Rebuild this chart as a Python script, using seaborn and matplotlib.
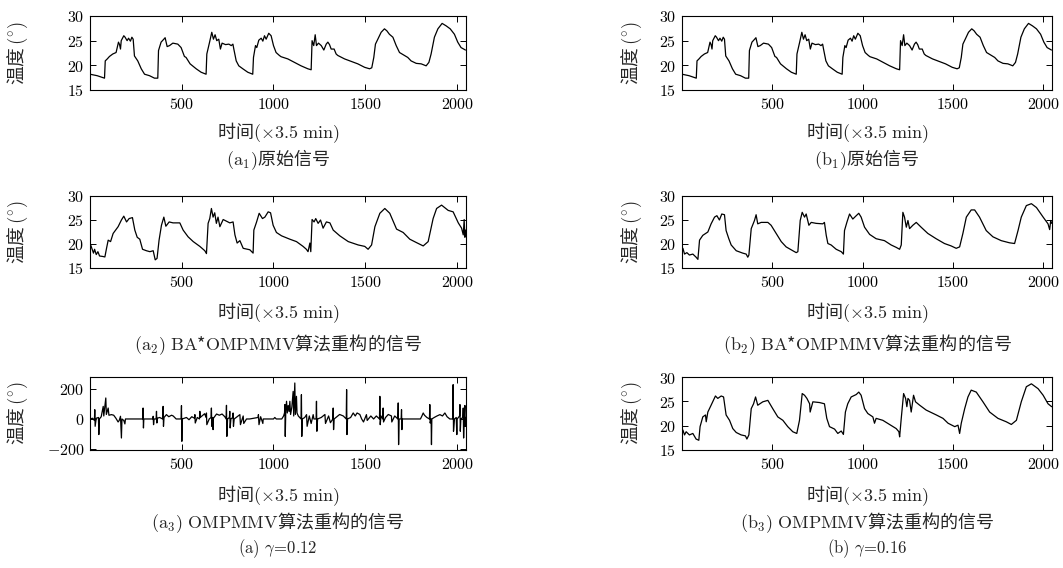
import matplotlib
matplotlib.use("Agg")
import matplotlib.pyplot as plt
import seaborn as sns

# ---------------- data ----------------
orig_x = [1, 40, 80, 84, 95, 107, 125, 143, 156, 162, 167, 171, 185, 192, 203, 211, 221, 229, 236, 243,
          261, 280, 298, 325, 352, 370, 374, 388, 403, 410, 421, 434, 452, 479, 497, 515, 524, 546, 579, 606,
          633, 637, 652, 664, 673, 682, 691, 702, 711, 720, 739, 757, 770, 779, 784, 797, 811, 833, 860, 887,
          891, 902, 909, 920, 933, 942, 951, 960, 974, 987, 1000, 1014, 1032, 1041, 1078, 1114, 1150, 1187, 1205, 1210,
          1219, 1227, 1234, 1245, 1260, 1274, 1287, 1296, 1305, 1314, 1330, 1341, 1350, 1387, 1423, 1459, 1496, 1523, 1535, 1546,
          1555, 1568, 1586, 1604, 1617, 1631, 1650, 1668, 1686, 1713, 1731, 1749, 1777, 1804, 1831, 1846, 1858, 1876, 1895, 1918,
          1940, 1962, 1985, 2003, 2021, 2045]
orig_y = [18.2, 17.9, 17.4, 20.9, 21.3, 21.8, 22.3, 22.6, 24.7, 24.2, 23.3, 25.0, 26.0, 25.7, 25.0, 25.5, 24.9, 25.7, 25.3, 21.9,
          20.9, 19.3, 18.2, 17.9, 17.4, 17.4, 23.0, 24.7, 25.3, 25.6, 23.8, 24.0, 24.5, 24.3, 23.6, 21.8, 21.6, 20.3, 19.3, 18.6,
          18.2, 22.3, 24.7, 26.7, 25.3, 26.2, 25.0, 25.3, 23.3, 24.5, 24.2, 24.3, 24.0, 24.3, 23.3, 20.9, 19.9, 19.3, 18.6, 18.2,
          21.6, 24.0, 23.6, 25.1, 25.5, 24.9, 26.0, 25.3, 26.5, 26.0, 24.0, 22.6, 22.0, 21.75, 21.3, 20.6, 19.9, 19.3, 19.1, 25.0,
          24.0, 26.2, 24.0, 24.5, 24.0, 23.1, 24.3, 24.7, 24.2, 23.3, 23.3, 22.3, 22.0, 21.3, 20.8, 20.3, 19.6, 19.3, 19.5, 21.6,
          24.3, 25.3, 26.7, 27.4, 27.0, 26.3, 25.7, 24.0, 22.6, 22.0, 21.6, 20.9, 20.4, 20.3, 19.9, 20.6, 22.3, 25.7, 27.4, 28.5,
          28.0, 27.4, 26.3, 24.7, 23.6, 23.1]

a2_x = [1, 20, 26, 35, 44, 53, 71, 82, 91, 100, 113, 127, 154, 172, 185, 200, 214, 232, 245, 258,
        272, 287, 308, 327, 345, 356, 366, 377, 390, 403, 414, 432, 453, 490, 508, 535, 563, 599, 626, 635,
        644, 653, 662, 671, 680, 689, 698, 708, 726, 762, 780, 790, 802, 817, 835, 871, 889, 893, 908, 922,
        940, 953, 971, 984, 998, 1016, 1044, 1089, 1125, 1161, 1179, 1188, 1198, 1203, 1210, 1221, 1230, 1243, 1256, 1270,
        1288, 1307, 1325, 1361, 1407, 1461, 1497, 1515, 1534, 1552, 1579, 1606, 1633, 1670, 1706, 1742, 1778, 1815, 1842, 1869,
        1888, 1915, 1951, 1978, 2006, 2024, 2033, 2038, 2042, 2046]
a2_y = [20.2, 18.1, 18.9, 17.8, 18.4, 17.5, 17.4, 17.3, 19.1, 20.8, 20.5, 22.2, 23.6, 25.0, 25.8, 24.6, 25.3, 25.5, 22.9, 21.4,
        21.0, 18.9, 18.6, 18.4, 18.6, 16.7, 17.0, 20.8, 23.9, 25.6, 23.7, 24.6, 24.4, 24.4, 22.9, 21.5, 20.5, 19.5, 18.6, 18.0,
        24.3, 25.3, 27.4, 25.6, 26.5, 24.3, 25.6, 23.6, 25.1, 24.4, 24.6, 21.9, 20.2, 20.7, 19.1, 18.8, 18.1, 22.9, 24.6, 26.4,
        25.3, 25.6, 26.7, 26.5, 23.9, 22.4, 21.7, 21.0, 20.5, 19.5, 18.9, 18.4, 20.2, 18.4, 25.1, 24.6, 25.3, 24.3, 25.0, 23.3,
        24.6, 24.4, 22.9, 21.7, 20.5, 19.8, 19.5, 18.9, 19.8, 23.6, 26.4, 27.4, 26.4, 23.1, 22.4, 21.0, 20.3, 19.6, 20.5, 25.3,
        27.4, 28.1, 27.0, 26.7, 24.4, 23.3, 21.9, 25.1, 21.4, 22.9]

b2_x = [1, 6, 15, 28, 42, 61, 79, 89, 98, 116, 144, 162, 181, 194, 208, 221, 236, 245, 260, 273,
        301, 337, 356, 365, 371, 384, 402, 411, 420, 439, 476, 494, 522, 550, 577, 614, 633, 642, 655, 666,
        679, 688, 703, 716, 743, 780, 789, 799, 808, 826, 854, 882, 894, 900, 913, 928, 946, 965, 979, 992,
        1011, 1039, 1075, 1121, 1158, 1186, 1205, 1214, 1223, 1232, 1242, 1251, 1260, 1278, 1297, 1324, 1361, 1407, 1453, 1490,
        1518, 1537, 1555, 1574, 1601, 1620, 1647, 1684, 1721, 1767, 1813, 1841, 1860, 1878, 1906, 1934, 1962, 1999, 2026, 2035,
        2041, 2046]
b2_y = [18.0, 19.1, 17.9, 18.2, 17.7, 17.9, 17.25, 16.8, 20.8, 21.8, 22.5, 24.2, 25.6, 25.9, 25.0, 26.25, 26.1, 22.8, 21.1, 19.8,
        18.6, 18.1, 17.9, 17.25, 17.7, 23.2, 24.9, 26.1, 24.2, 24.5, 24.5, 23.9, 22.2, 20.5, 19.4, 18.6, 18.2, 18.4, 24.9, 26.6,
        25.6, 26.25, 23.9, 24.5, 24.3, 24.2, 24.5, 21.8, 20.1, 19.8, 18.9, 18.4, 17.9, 22.8, 24.5, 26.25, 25.2, 25.9, 26.4, 25.6,
        23.5, 22.0, 21.1, 20.7, 19.8, 19.3, 18.9, 19.8, 26.6, 25.6, 23.5, 24.9, 23.2, 23.9, 24.5, 23.5, 22.2, 21.1, 20.1, 19.6,
        19.1, 19.4, 22.2, 25.6, 27.1, 27.1, 25.6, 22.8, 21.5, 20.7, 20.25, 20.1, 22.8, 25.6, 28.0, 28.4, 27.6, 25.6, 24.2, 23.0,
        24.9, 24.3]

b3_x = [1, 6, 15, 24, 42, 61, 79, 94, 101, 116, 131, 135, 144, 162, 186, 199, 218, 231, 245, 264,
        282, 301, 328, 352, 360, 371, 384, 397, 408, 420, 448, 476, 503, 531, 559, 586, 614, 636, 651, 666,
        679, 692, 707, 710, 725, 762, 789, 802, 817, 845, 863, 882, 894, 905, 918, 937, 965, 979, 992, 1011,
        1029, 1057, 1066, 1075, 1112, 1149, 1186, 1201, 1205, 1214, 1227, 1238, 1245, 1251, 1260, 1269, 1282, 1293, 1316, 1352,
        1408, 1445, 1473, 1510, 1528, 1537, 1546, 1565, 1583, 1601, 1629, 1666, 1703, 1749, 1795, 1823, 1851, 1878, 1906, 1934,
        1971, 1999, 2026, 2046]
b3_y = [18.0, 19.1, 18.1, 18.75, 18.1, 18.4, 17.25, 17.0, 19.8, 21.8, 22.2, 20.8, 22.8, 24.2, 26.1, 25.6, 26.1, 25.9, 22.2, 21.1,
        19.4, 18.6, 18.1, 17.9, 17.25, 18.1, 23.5, 24.5, 25.9, 24.2, 24.9, 25.2, 23.5, 21.8, 21.1, 19.8, 18.75, 18.4, 21.1, 26.6,
        26.25, 25.6, 24.5, 22.8, 24.9, 24.75, 24.5, 21.5, 19.8, 19.3, 18.4, 18.9, 18.2, 22.8, 24.5, 25.9, 26.4, 26.9, 26.25, 23.5,
        22.5, 21.8, 20.5, 21.5, 21.1, 20.25, 19.4, 18.75, 17.7, 21.5, 26.6, 25.6, 23.9, 25.6, 25.2, 22.8, 26.25, 24.9, 24.2, 23.2,
        22.2, 21.5, 20.5, 19.8, 20.1, 18.4, 20.5, 23.5, 25.9, 27.3, 26.9, 24.9, 22.8, 21.5, 20.8, 20.25, 21.1, 24.9, 28.0, 28.6,
        27.6, 26.25, 24.5, 23.9]

a3_x = [1, 15, 25, 27, 29, 35, 47, 49, 52, 62, 73, 76, 87, 90, 100, 104, 118, 130, 142, 154,
        160, 167, 172, 175, 185, 191, 194, 288, 290, 292, 294, 343, 345, 347, 350, 361, 363, 365, 368, 380,
        397, 399, 401, 404, 417, 430, 445, 454, 470, 497, 499, 501, 503, 526, 540, 555, 570, 572, 574, 585,
        597, 599, 601, 615, 625, 633, 635, 637, 650, 660, 662, 664, 669, 671, 673, 690, 705, 720, 735, 742,
        744, 746, 750, 760, 762, 764, 768, 778, 780, 782, 786, 817, 820, 835, 838, 853, 870, 916, 918, 921,
        930, 942, 944, 1000, 1007, 1015, 1045, 1055, 1060, 1062, 1064, 1067, 1071, 1075, 1080, 1085, 1089, 1093, 1100, 1107,
        1110, 1116, 1119, 1125, 1128, 1135, 1150, 1152, 1154, 1157, 1170, 1180, 1183, 1195, 1205, 1216, 1220, 1232, 1234, 1236,
        1240, 1260, 1280, 1283, 1300, 1310, 1323, 1325, 1327, 1330, 1345, 1360, 1380, 1396, 1398, 1400, 1403, 1420, 1434, 1445,
        1455, 1470, 1480, 1490, 1506, 1510, 1530, 1545, 1560, 1577, 1579, 1581, 1585, 1595, 1597, 1599, 1610, 1625, 1642, 1644,
        1660, 1677, 1679, 1681, 1684, 1695, 1697, 1699, 1702, 1800, 1808, 1815, 1822, 1835, 1849, 1851, 1853, 1858, 1860, 1862,
        1875, 1890, 1906, 1920, 1933, 1945, 1960, 1976, 1978, 1980, 1985, 1995, 1998, 2000, 2013, 2015, 2017, 2020, 2031, 2033,
        2035, 2038, 2042, 2044, 2046]
a3_y = [0, 5, -10, 62, -49, 5, 10, -104, 0, 15, 84, 20, 140, 30, 73, 25, 29, 25, 5, -20,
        -10, 18, -127, 0, -10, -33, 0, 0, 73, -60, 0, 0, 18, -38, 0, 0, 51, -27, 5, 10,
        0, 84, -49, 10, 29, 15, 25, 20, 0, 0, 89, -149, 0, 10, -5, 15, 5, 29, -27, 10,
        0, 51, 10, 25, 35, 10, 40, -38, 0, 10, 73, -49, 10, -71, 5, 33, 25, 33, 15, 0,
        91, -116, 0, 10, 51, -60, 0, 10, 40, -49, 0, 29, -38, 20, -30, 0, 0, 10, 29, -38,
        15, -30, 0, 0, 10, 0, 0, 20, 40, 96, -116, 60, 118, 40, 90, 50, 118, 30, 80, 184,
        20, 240, 30, 151, 40, 20, 0, 162, -116, 0, 10, 29, -49, 20, -30, 29, 0, 0, 118, -82,
        0, 10, 30, -30, 20, -25, 0, 73, -71, 0, 15, 30, 20, 0, 196, -104, 0, 10, 40, 20,
        40, 30, 0, -20, 29, -10, 20, 0, 20, 0, 151, -38, 20, 0, 73, -20, 10, 30, 20, -20,
        20, 0, 107, -171, 0, 0, 62, -71, 0, 0, 20, 40, 25, 10, 0, 96, -27, 0, -171, 0,
        10, 20, 29, 20, 40, 15, 0, 0, 229, -82, 0, 10, -104, 0, 20, 96, -82, 0, 10, 73,
        -127, 0, 90, -50, 10]

x_ticks = [500, 1000, 1500, 2000]
temp_ticks = [15, 20, 25, 30]
a3_ticks = [-200, 0, 200]

row_captions_a = [r"$(\mathrm{a}_1)$原始信号",
                  r"$(\mathrm{a}_2)\ \mathrm{BA}$*$\mathrm{OMPMMV}$算法重构的信号",
                  r"$(\mathrm{a}_3)\ \mathrm{OMPMMV}$算法重构的信号"]
row_captions_b = [r"$(\mathrm{b}_1)$原始信号",
                  r"$(\mathrm{b}_2)\ \mathrm{BA}$*$\mathrm{OMPMMV}$算法重构的信号",
                  r"$(\mathrm{b}_3)\ \mathrm{OMPMMV}$算法重构的信号"]
group_captions = [r"$(\mathrm{a})\ \gamma\!=\!0.12$", r"$(\mathrm{b})\ \gamma\!=\!0.16$"]
x_label = r"时间$(\times 3.5\ \mathrm{min})$"
y_label = r"温度$\,(^{\circ})$"

# ---------------- style ----------------
sns.set_style("ticks")
plt.rcParams["font.family"] = ["Noto Sans CJK SC", "DejaVu Sans"]
plt.rcParams["mathtext.fontset"] = "cm"
plt.rcParams["axes.linewidth"] = 0.8

W, H = 1063, 568
fig = plt.figure(figsize=(W / 100, H / 100), dpi=100)


def add_ax(l, t, r, b):
    return fig.add_axes([l / W, 1 - b / H, (r - l) / W, (b - t) / H])


cols = [(90, 466), (682, 1052)]
rows = [(16, 90), (196, 268), (377, 450)]
xlabel_y = [133, 313, 496]
caption_y = [160, 345, 523]
ylabel_x = [18, 632]

series = [[(orig_x, orig_y), (a2_x, a2_y), (a3_x, a3_y)],
          [(orig_x, orig_y), (b2_x, b2_y), (b3_x, b3_y)]]
captions = [row_captions_a, row_captions_b]

for ci, (l, r) in enumerate(cols):
    for ri, (t, b) in enumerate(rows):
        ax = add_ax(l, t, r, b)
        xs, ys = series[ci][ri]
        sns.lineplot(x=xs, y=ys, ax=ax, color="black", linewidth=0.9,
                     estimator=None, sort=False)
        ax.set_xlim(1, 2048)
        is_res = (ci == 0 and ri == 2)
        if is_res:
            ax.set_ylim(-207, 280)
            yt = a3_ticks
        else:
            ax.set_ylim(15, 30)
            yt = temp_ticks
        ax.set_xticks(x_ticks)
        ax.set_xticklabels([f"${v}$" for v in x_ticks], fontsize=11.5)
        ax.set_yticks(yt)
        ax.set_yticklabels([f"${v}$" for v in yt], fontsize=11.5)
        ax.tick_params(direction="in", top=True, right=True, length=4, width=0.7,
                       pad=4, colors="black")
        for sp in ax.spines.values():
            sp.set_visible(True)
            sp.set_color("black")
        ax.set_xlabel("")
        ax.set_ylabel("")
        cx = (l + r) / 2 / W
        fig.text(ylabel_x[ci] / W, 1 - (t + b) / 2 / H, y_label, rotation=90,
                 ha="center", va="center", fontsize=13.5)
        fig.text(cx, 1 - xlabel_y[ri] / H, x_label, ha="center", va="center", fontsize=13)
        fig.text(cx, 1 - caption_y[ri] / H, captions[ci][ri], ha="center", va="center", fontsize=13)
    fig.text((l + r) / 2 / W, 1 - 549 / H, group_captions[ci], ha="center", va="center", fontsize=12)

fig.savefig("out.png", dpi=100)
